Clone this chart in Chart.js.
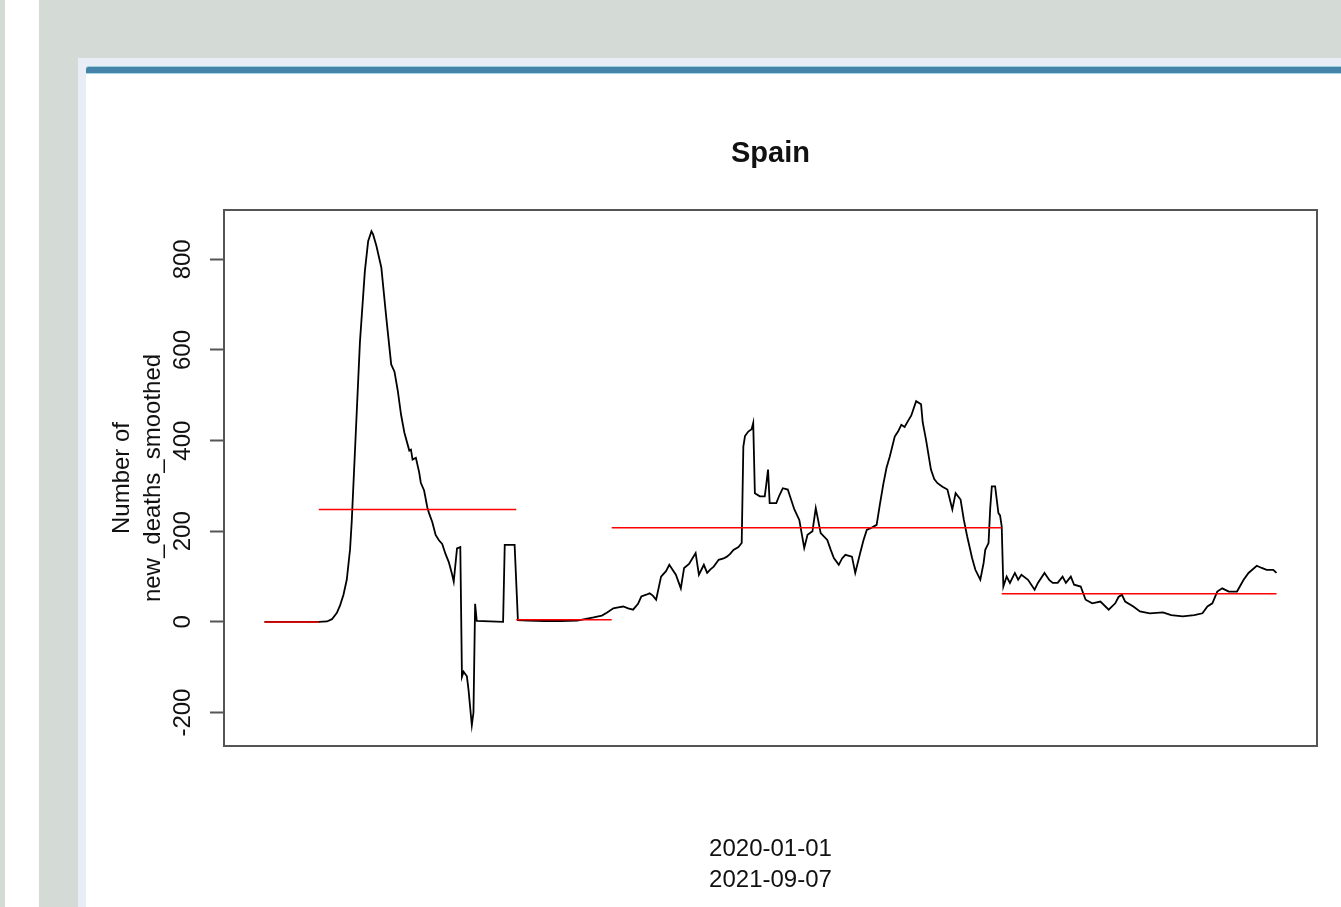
<!DOCTYPE html>
<html>
<head>
<meta charset="utf-8">
<title>Spain</title>
<script src="https://cdn.jsdelivr.net/npm/chart.js@4.4.1/dist/chart.umd.min.js"></script>
<style>
  html, body {
    margin: 0;
    padding: 0;
    width: 1341px;
    height: 907px;
    overflow: hidden;
    background: #d4dad6;
    font-family: "Liberation Sans", Arial, sans-serif;
  }
  .side-strip {
    position: absolute;
    left: 5px;
    top: 0;
    width: 34px;
    height: 907px;
    background: #ffffff;
  }
  .panel {
    position: absolute;
    left: 78px;
    top: 58px;
    right: 0;
    bottom: 0;
    background: #e9edf5;
  }
  .panel-body {
    position: absolute;
    left: 86px;
    top: 72px;
    right: 0;
    bottom: 0;
    background: #ffffff;
  }
  .panel-bar {
    position: absolute;
    left: 86px;
    top: 66px;
    right: 0;
    height: 6px;
    background: #4683a8;
    border-top: 1px solid #9fd0e2;
    border-bottom: 1px solid #a6d7e8;
    border-top-left-radius: 3px;
  }
  .chart-box {
    position: absolute;
    left: 0;
    top: 0;
    width: 1341px;
    height: 907px;
  }
</style>
</head>
<body>
<div class="side-strip"></div>
<div class="panel"></div>
<div class="panel-body"></div>
<div class="panel-bar"></div>
<div class="chart-box"><canvas id="chart-output"></canvas></div>

<script>
// day index (0 = first day of the series) and smoothed deaths on that day
const days = [
  0, 33, 38, 41, 44, 46, 48, 50, 52, 53, 55, 58, 61, 63, 65, 66, 68, 71, 74, 77,
  79, 81, 83, 85, 88, 89, 90, 92, 94, 95, 97, 99, 100, 102, 104, 106, 108, 110, 112, 114,
  115, 117, 119, 120, 121, 123, 124, 126, 127, 128, 129, 145, 146, 152, 154, 160, 170, 180, 190, 200,
  205, 208, 212, 215, 218, 221, 224, 227, 229, 232, 234, 236, 238, 241, 244, 246, 248, 250, 253, 255,
  258, 260, 262, 264, 267, 269, 271, 273, 276, 279, 281, 283, 285, 288, 290, 291, 292, 294, 296, 297,
  298, 301, 304, 305, 306, 307, 311, 313, 315, 318, 320, 322, 325, 328, 330, 333, 335, 338, 342, 344,
  346, 349, 351, 353, 357, 359, 362, 364, 366, 369, 372, 374, 376, 378, 380, 383, 385, 387, 389, 391,
  393, 396, 399, 400, 402, 405, 407, 409, 412, 415, 418, 420, 423, 425, 427, 430, 432, 435, 437, 438,
  440, 441, 442, 444, 446, 447, 448, 449, 451, 453, 456, 458, 460, 464, 468, 470, 474, 477, 479, 482,
  485, 487, 490, 492, 496, 499, 503, 508, 513, 517, 519, 521, 523, 528, 532, 538, 546, 551, 558, 565,
  570, 573, 576, 579, 582, 586, 591, 595, 598, 603, 606, 609, 613, 615
];
const deaths = [
  0, 0, 1, 6, 20, 37, 60, 93, 160, 220, 378, 617, 774, 840, 862, 855, 830, 782, 672, 568,
  552, 510, 457, 418, 378, 380, 358, 362, 330, 307, 290, 252, 240, 220, 192, 180, 172, 150, 132, 105,
  89, 162, 165, -121, -110, -120, -150, -228, -200, 40, 2, 0, 170, 170, 4, 3, 2, 2, 3, 10,
  14, 20, 30, 32, 34, 30, 27, 40, 56, 60, 63, 58, 49, 100, 112, 126, 115, 104, 74, 119,
  128, 140, 152, 104, 126, 108, 116, 122, 137, 140, 144, 150, 159, 165, 174, 387, 410, 420, 425, 439,
  284, 277, 277, 305, 336, 262, 262, 280, 295, 292, 270, 248, 225, 163, 192, 200, 251, 196, 181, 160,
  141, 126, 140, 148, 144, 108, 152, 180, 203, 208, 214, 260, 303, 340, 365, 409, 420, 435, 430, 443,
  455, 487, 480, 440, 402, 336, 315, 306, 298, 292, 248, 284, 270, 225, 189, 141, 115, 93, 130, 159,
  174, 250, 299, 299, 240, 235, 211, 78, 100, 86, 108, 93, 104, 93, 71, 86, 108, 92, 86, 86,
  100, 86, 100, 82, 78, 49, 41, 45, 27, 41, 55, 60, 45, 34, 23, 19, 21, 15, 12, 15,
  19, 34, 41, 67, 74, 67, 67, 93, 108, 124, 119, 115, 115, 108
];

// changepoint segments: start day, end day, segment mean
const segStart = [0, 33, 153, 211, 448];
const segEnd = [33, 153, 211, 448, 615];
const segMean = [0, 248, 5, 208, 62];

const yTicks = [-200, 0, 200, 400, 600, 800];

const countryName = "Spain";
const yTitle = ["Number of", "new_deaths_smoothed"];
const xTitle = ["2020-01-01", "2021-09-07"];

const fontFamily = "'Liberation Sans', Arial, Helvetica, sans-serif";
const inkColor = "#111111";
const frameColor = "#555555";

// R style ranges: data range widened by 4% on each side
const padRange = (lo, hi) => {
  const pad = (hi - lo) * 0.04;
  return [lo - pad, hi + pad];
};
const [xMin, xMax] = padRange(0, 615);
const [yMin, yMax] = padRange(-230, 865);

// build the datasets
const lineData = days.map((d, i) => ({ x: d, y: deaths[i] }));
const segmentSets = segStart.map((s, i) => ({
  data: [
    { x: s, y: segMean[i] },
    { x: segEnd[i], y: segMean[i] },
  ],
  borderColor: "#ff0000",
  borderWidth: 1.5,
  pointRadius: 0,
  order: 0,
}));

// rotated tick labels on the left axis and the box around the plot
const frameAndLabels = {
  id: "frameAndLabels",
  afterDraw(chart) {
    const { ctx, chartArea } = chart;
    const yScale = chart.scales.y;
    ctx.save();
    ctx.strokeStyle = frameColor;
    ctx.lineWidth = 2;
    ctx.strokeRect(chartArea.left, chartArea.top,
      chartArea.right - chartArea.left, chartArea.bottom - chartArea.top);

    ctx.fillStyle = inkColor;
    ctx.font = "24px " + fontFamily;
    ctx.textAlign = "center";
    ctx.textBaseline = "middle";
    for (const t of yScale.ticks) {
      const py = yScale.getPixelForValue(t.value);
      ctx.save();
      ctx.translate(chartArea.left - 40.3, py);
      ctx.rotate(-Math.PI / 2);
      ctx.fillText(String(t.value), 0, 0);
      ctx.restore();
    }
    ctx.restore();
  },
};

const ctx = document.querySelector("#chart-output").getContext("2d");

const config = {
  type: "line",
  data: {
    datasets: [
      ...segmentSets,
      {
        data: lineData,
        borderColor: "#000000",
        borderWidth: 1.8,
        pointRadius: 0,
        tension: 0,
        order: 1,
      },
    ],
  },
  options: {
    responsive: true,
    maintainAspectRatio: false,
    animation: false,
    layout: {
      padding: { top: 0, right: 24, bottom: 0, left: 0 },
    },
    plugins: {
      legend: { display: false },
      tooltip: { enabled: false },
      title: {
        display: true,
        text: countryName,
        fullSize: false,
        color: inkColor,
        font: { family: fontFamily, size: 29, weight: "bold", lineHeight: 1.2 },
        padding: { top: 136.6, bottom: 38.6 },
      },
    },
    scales: {
      x: {
        type: "linear",
        min: xMin,
        max: xMax,
        ticks: { display: false },
        grid: { display: false, drawTicks: false },
        border: { display: false },
        title: {
          display: true,
          text: xTitle,
          color: inkColor,
          font: { family: fontFamily, size: 24, lineHeight: "31px" },
          padding: { top: 87.4, bottom: 11.6 },
        },
      },
      y: {
        type: "linear",
        position: "left",
        min: yMin,
        max: yMax,
        afterBuildTicks: (scale) => {
          scale.ticks = yTicks.map((v) => ({ value: v }));
        },
        ticks: { display: false },
        grid: {
          display: true,
          drawOnChartArea: false,
          drawTicks: true,
          tickLength: 14,
          tickColor: frameColor,
          tickWidth: 2,
        },
        border: { display: false },
        title: {
          display: true,
          text: yTitle,
          color: inkColor,
          font: { family: fontFamily, size: 24, lineHeight: "31px" },
          padding: { top: 106.7, bottom: 41.3 },
        },
      },
    },
  },
  plugins: [frameAndLabels],
};

new Chart(ctx, config);
</script>
</body>
</html>
